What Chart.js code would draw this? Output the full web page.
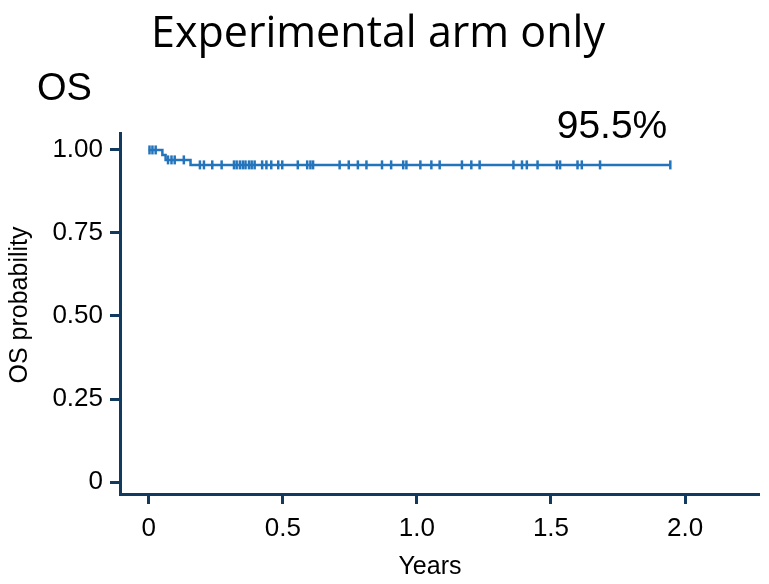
<!DOCTYPE html>
<html>
<head>
<meta charset="utf-8">
<script src="https://cdn.jsdelivr.net/npm/chart.js@4.4.1/dist/chart.umd.min.js"></script>
<style>
  html, body { margin: 0; padding: 0; background: #fff; }
  canvas { display: block; }
</style>
</head>
<body>
<canvas id="km" width="769" height="584"></canvas>
<script>
// Kaplan-Meier OS, experimental arm
const stepTimes = [0, 0.051, 0.063, 0.156];
const stepSurv = [1.0, 0.985, 0.970, 0.955];
const censorTimes = [
  0.003, 0.014, 0.026, 0.072, 0.085, 0.097, 0.131,
  0.191, 0.206, 0.237, 0.272, 0.318, 0.328, 0.340, 0.351, 0.361, 0.374, 0.384, 0.395,
  0.423, 0.439, 0.457, 0.483, 0.498, 0.556, 0.591, 0.603, 0.613,
  0.712, 0.746, 0.780, 0.812, 0.870, 0.904, 0.949, 0.961, 1.013, 1.054, 1.085,
  1.168, 1.203, 1.234, 1.360, 1.392, 1.410, 1.450, 1.522, 1.534, 1.599, 1.615, 1.683, 1.945
];
const xTicks = [0, 0.5, 1.0, 1.5, 2.0];
const yTicks = [0, 0.25, 0.50, 0.75, 1.00];

const NAVY = '#123a5e';
const BLUE = '#2474bb';
const FONT = '"Liberation Sans", Arial, sans-serif';

// survival at time t
const survAt = t => {
  let s = stepSurv[0];
  stepTimes.forEach((st, i) => { if (st <= t) s = stepSurv[i]; });
  return s;
};

const lastT = censorTimes[censorTimes.length - 1];
const curve = stepTimes.map((t, i) => ({ x: t, y: stepSurv[i] }))
  .concat([{ x: lastT, y: survAt(lastT) }]);
const marks = censorTimes.map(t => ({ x: t, y: survAt(t) }));

const labels = {
  id: 'labels',
  afterDraw(chart) {
    const { ctx } = chart;
    ctx.save();
    ctx.fillStyle = '#000';
    ctx.textBaseline = 'alphabetic';

    ctx.font = '43px "Open Sans", sans-serif';
    ctx.textAlign = 'center';
    ctx.fillText('Experimental arm only', 378, 47);

    ctx.font = '38px ' + FONT;
    ctx.textAlign = 'left';
    ctx.fillText('OS', 37, 100);

    const finalPct = (stepSurv[stepSurv.length - 1] * 100).toFixed(1) + '%';
    ctx.font = '39px ' + FONT;
    ctx.textAlign = 'center';
    ctx.fillText(finalPct, 612, 138);

    ctx.font = '25px ' + FONT;
    ctx.fillText('Years', 430, 574);

    ctx.translate(27, 305);
    ctx.rotate(-Math.PI / 2);
    ctx.font = '25px ' + FONT;
    ctx.fillText('OS probability', 0, 0);
    ctx.restore();
  }
};

new Chart(document.getElementById('km'), {
  type: 'scatter',
  data: {
    datasets: [
      {
        type: 'line',
        data: curve,
        borderColor: BLUE,
        borderWidth: 2.5,
        stepped: true,
        pointRadius: 0,
        fill: false
      },
      {
        data: marks,
        pointStyle: 'line',
        rotation: 90,
        pointRadius: 4.5,
        borderColor: BLUE,
        borderWidth: 2.5,
        backgroundColor: BLUE
      }
    ]
  },
  options: {
    responsive: false,
    animation: false,
    layout: { padding: { top: 133, right: 11, left: 0, bottom: 0 } },
    plugins: { legend: { display: false }, tooltip: { enabled: false } },
    scales: {
      x: {
        type: 'linear',
        min: -0.107,
        max: 2.272,
        afterBuildTicks: s => { s.ticks = xTicks.map(v => ({ value: v })); },
        afterFit: s => { s.height = 90; },
        border: { color: NAVY, width: 3 },
        grid: { drawOnChartArea: false, color: NAVY, lineWidth: 3, tickLength: 10 },
        ticks: {
          color: '#000', padding: 9,
          font: { family: FONT, size: 26 },
          callback: v => v === 0 ? '0' : v.toFixed(1)
        }
      },
      y: {
        min: -0.036,
        max: 1.051,
        afterBuildTicks: s => { s.ticks = yTicks.map(v => ({ value: v })); },
        afterFit: s => { s.width = 120; },
        border: { color: NAVY, width: 3 },
        grid: { drawOnChartArea: false, color: NAVY, lineWidth: 3, tickLength: 10 },
        ticks: {
          color: '#000', padding: 7,
          font: { family: FONT, size: 26 },
          callback: v => v === 0 ? '0' : v.toFixed(2)
        }
      }
    }
  },
  plugins: [labels]
});
</script>
</body>
</html>
